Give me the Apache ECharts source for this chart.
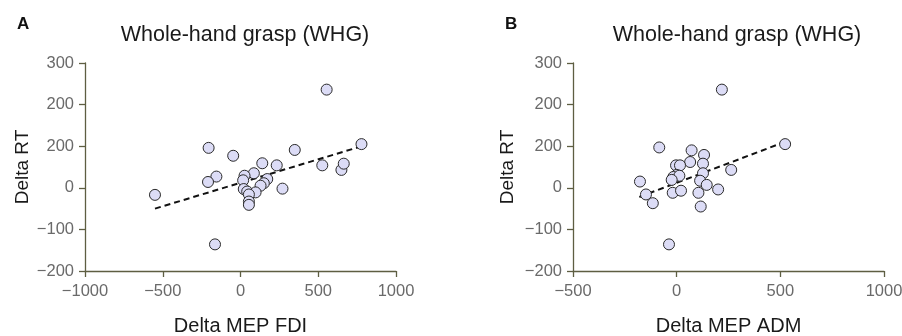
<!DOCTYPE html>
<html>
<head>
<meta charset="utf-8">
<script src="https://cdn.jsdelivr.net/npm/echarts@6/dist/echarts.min.js"></script>
<style>
  html, body { margin: 0; padding: 0; background: #fff; }
  #chart { width: 902px; height: 336px; }
</style>
</head>
<body>
<div id="chart"></div>
<script>
// ---- data ----
const fdiX = [-550, -205, -47, -155, -209, -164, 140, 233, 86, 26, 17, 172, 150, 129, 21, 43, 97, 270, 54, 54, 54, 349, 526, 554, 649, 664, 778];
const fdiY = [-17, 96, 77, 27, 14, -136, 59, 54, 35, 29, 18, 21, 11, 5, -3, -9, -11, -2, -16, -33, -41, 91, 54, 236, 43, 58, 105];
const admX = [218, -84, 72, 132, 65, -3, 16, 127, 263, 127, 0, -16, 13, -24, 113, 145, -177, -19, 21, 105, -148, -115, 116, 200, -37, 523];
const admY = [236, 97, 90, 79, 62, 54, 54, 58, 43, 35, 31, 26, 29, 19, 17, 7, 15, -12, -7, -12, -16, -37, -45, -4, -136, 105];

// regression lines (end points)
const fdiFitX = [-550, 780];
const fdiFitY = [-50, 100];
const admFitX = [-180, 520];
const admFitY = [-22, 110];

// tick labels as printed (the figure prints "200" at the 100 tick)
const yTicks = ['\u2212200', '\u2212100', '0', '200', '200', '300'];
const yTickValues = [-200, -100, 0, 100, 200, 300];
const fdiTicks = { '-1000': '\u22121000', '-500': '\u2212500', '0': '0', '500': '500', '1000': '1000' };
const admTicks = { '-500': '\u2212500', '0': '0', '500': '500', '1000': '1000' };

const FONT = 'Liberation Sans, Arial, sans-serif';
const AXIS_COLOR = '#5e5e42';

const chart = echarts.init(document.getElementById('chart'), null, { renderer: 'canvas' });

const zip = (xs, ys) => xs.map((x, i) => [x, ys[i]]);

const yAxisBase = (gridIndex, nameGap) => ({
  gridIndex,
  type: 'value',
  min: -200, max: 300, interval: 100,
  name: 'Delta RT',
  nameLocation: 'middle',
  nameGap,
  nameTextStyle: { fontFamily: FONT, fontSize: 19, color: '#1a1a1a' },
  axisLine: { show: true, onZero: false, lineStyle: { color: AXIS_COLOR, width: 1.3 } },
  axisTick: { show: true, length: 6, lineStyle: { color: AXIS_COLOR, width: 1.3 } },
  splitLine: { show: false },
  axisLabel: {
    margin: 11, fontFamily: FONT, fontSize: 16.5, color: '#6a6a6a',
    formatter: (v) => yTicks[yTickValues.indexOf(v)]
  }
});

const xAxisBase = (gridIndex, min, name, ticks) => ({
  gridIndex,
  type: 'value',
  min, max: 1000, interval: 500,
  name,
  nameLocation: 'middle',
  nameGap: 45,
  nameTextStyle: { fontFamily: FONT, fontSize: 20, color: '#1a1a1a' },
  axisLine: { show: true, onZero: false, lineStyle: { color: AXIS_COLOR, width: 1.3 } },
  axisTick: { show: true, length: 6, lineStyle: { color: AXIS_COLOR, width: 1.3 } },
  splitLine: { show: false },
  axisLabel: {
    margin: 12, fontFamily: FONT, fontSize: 16.5, color: '#6a6a6a',
    formatter: (v) => ticks[String(v)]
  }
});

const dots = (xi, data) => ({
  type: 'scatter',
  xAxisIndex: xi, yAxisIndex: xi,
  data,
  symbol: 'circle',
  symbolSize: 11,
  itemStyle: { color: '#dcdcf6', borderColor: '#2a2a2a', borderWidth: 1, opacity: 1 },
  z: 3
});

const fit = (xi, data) => ({
  type: 'line',
  xAxisIndex: xi, yAxisIndex: xi,
  data,
  symbol: 'none',
  lineStyle: { color: '#111', width: 2, type: [6, 4] },
  z: 2
});

chart.setOption({
  animation: false,
  backgroundColor: '#fff',
  title: [
    { text: 'A', left: 12, top: 11, textStyle: { fontFamily: FONT, fontSize: 17, fontWeight: 'bold', color: '#111' } },
    { text: 'B', left: 500, top: 11, textStyle: { fontFamily: FONT, fontSize: 17, fontWeight: 'bold', color: '#111' } },
    { text: 'Whole-hand grasp (WHG)', left: 240, top: 19, textAlign: 'center',
      textStyle: { fontFamily: FONT, fontSize: 21.5, fontWeight: 'normal', color: '#1a1a1a' } },
    { text: 'Whole-hand grasp (WHG)', left: 732, top: 19, textAlign: 'center',
      textStyle: { fontFamily: FONT, fontSize: 21.5, fontWeight: 'normal', color: '#1a1a1a' } }
  ],
  grid: [
    { left: 85, top: 63, width: 311, height: 208, outerBoundsMode: 'none', containLabel: false },
    { left: 573, top: 63, width: 311, height: 208, outerBoundsMode: 'none', containLabel: false }
  ],
  xAxis: [
    xAxisBase(0, -1000, 'Delta MEP FDI', fdiTicks),
    xAxisBase(1, -500, 'Delta MEP ADM', admTicks)
  ],
  yAxis: [
    yAxisBase(0, 53),
    yAxisBase(1, 56)
  ],
  series: [
    fit(0, zip(fdiFitX, fdiFitY)),
    dots(0, zip(fdiX, fdiY)),
    fit(1, zip(admFitX, admFitY)),
    dots(1, zip(admX, admY))
  ]
});
</script>
</body>
</html>
